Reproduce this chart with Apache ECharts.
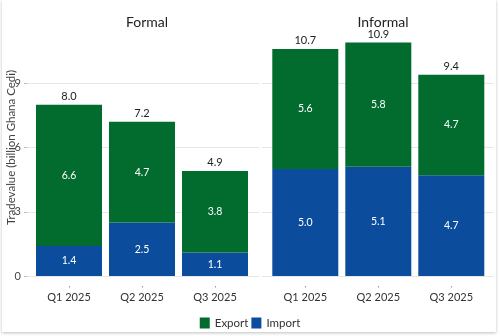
<!DOCTYPE html>
<html>
<head>
<meta charset="utf-8">
<script src="https://cdn.jsdelivr.net/npm/echarts@6/dist/echarts.min.js"></script>
<style>
  html, body { margin: 0; padding: 0; background: #fff; }
  #card { position: absolute; left: 2px; top: 0; width: 494px; height: 332px; background: #fff;
          box-shadow: 0 1px 3px rgba(0,0,0,0.25); }
  #main { position: absolute; left: 0; top: 0; width: 500px; height: 336px; }
</style>
</head>
<body>
<div id="card"></div>
<div id="main"></div>
<script>
var quarters = ['Q1 2025', 'Q2 2025', 'Q3 2025'];
var panels = ['Formal', 'Informal'];
var formalImport = [1.4, 2.5, 1.1];
var formalExport = [6.6, 4.7, 3.8];
var formalTotal = ['8.0', '7.2', '4.9'];
var informalImport = [5.0, 5.1, 4.7];
var informalExport = [5.6, 5.8, 4.7];
var informalTotal = ['10.7', '10.9', '9.4'];
var yTicks = [0, 3, 6, 9];

var green = '#026b2e';
var blue = '#0b4d9c';
var font = 'Lato';

var chart = echarts.init(document.getElementById('main'), null, {renderer: 'canvas'});

var gridTop = 19, gridBottom = 60, yMax = 12;

function bgY(idx, showLabels) {
  return {
    type: 'value', gridIndex: idx, min: 0, max: yMax, interval: 3,
    axisLine: {show: false},
    axisTick: {show: showLabels, length: 3, lineStyle: {color: '#bbb'}},
    axisLabel: {show: showLabels, showMaxLabel: false, margin: 6, color: '#444', fontSize: 11, fontFamily: font,
      formatter: function (v) { return yTicks.indexOf(v) >= 0 ? String(v) : ''; }},
    splitLine: {show: true, showMaxLine: false, lineStyle: {color: '#e6e6e6'}},
    name: showLabels ? 'Tradevalue (billion Ghana Cedi)' : '',
    nameLocation: 'middle', nameGap: 10, nameMoveOverlap: false,
    nameTextStyle: {color: '#444', fontSize: 11.5, fontFamily: font}
  };
}
function barY(idx) {
  return {type: 'value', gridIndex: idx, min: 0, max: yMax, show: false, splitLine: {show: false}};
}
function barX(idx) {
  return {
    type: 'category', gridIndex: idx, data: quarters,
    axisLine: {show: false},
    axisTick: {show: false},
    axisLabel: {margin: 16, color: '#333', fontSize: 11, fontFamily: font}
  };
}
// second axis on the same grid, only to draw the small tick dots under the bars
function dotX(idx) {
  return {
    type: 'category', gridIndex: idx, data: quarters, position: 'bottom', offset: 10,
    axisLine: {show: true, lineStyle: {color: 'rgba(0,0,0,0)'}},
    axisTick: {show: true, alignWithLabel: true, length: 1.5, lineStyle: {color: '#999'}},
    axisLabel: {show: false}
  };
}
function bgX(idx) {
  return {type: 'category', gridIndex: idx, data: [], show: false};
}

function stackSeries(axisIdx, imp, exp, totals, key) {
  return [
    {name: 'Import', type: 'bar', xAxisIndex: axisIdx, yAxisIndex: axisIdx, stack: key, data: imp,
      barWidth: 66, itemStyle: {color: blue},
      label: {show: true, position: 'inside', color: '#fff', fontSize: 10.5, fontFamily: font,
        formatter: function (p) { return p.value.toFixed(1); }}},
    {name: 'Export', type: 'bar', xAxisIndex: axisIdx, yAxisIndex: axisIdx, stack: key, data: exp,
      barWidth: 66, itemStyle: {color: green},
      label: {show: true, position: 'inside', color: '#fff', fontSize: 10.5, fontFamily: font,
        formatter: function (p) { return p.value.toFixed(1); }}},
    {name: 'Total', type: 'bar', xAxisIndex: axisIdx, yAxisIndex: axisIdx, stack: key,
      data: totals.map(function () { return 0; }),
      barWidth: 66, itemStyle: {color: 'transparent'}, silent: true,
      label: {show: true, position: 'top', distance: 3, color: '#222', fontSize: 11, fontFamily: font,
        formatter: function (p) { return totals[p.dataIndex]; }}}
  ];
}

var option = {
  animation: false,
  backgroundColor: 'transparent',
  title: [
    {text: panels[0], left: 142, top: 10, textAlign: 'center',
      textStyle: {fontSize: 14, fontWeight: 'normal', color: '#222', fontFamily: font}},
    {text: panels[1], left: 378, top: 10, textAlign: 'center',
      textStyle: {fontSize: 14, fontWeight: 'normal', color: '#222', fontFamily: font}}
  ],
  legend: {
    data: ['Export', 'Import'], top: 312, left: 'center', itemWidth: 10, itemHeight: 11, itemGap: 3,
    icon: 'rect', textStyle: {fontSize: 11.5, color: '#333', fontFamily: font}
  },
  grid: [
    {left: 27, width: 232, top: gridTop, bottom: gridBottom},
    {left: 32.5, width: 219, top: gridTop, bottom: gridBottom},
    {left: 262, width: 232, top: gridTop, bottom: gridBottom},
    {left: 268.8, width: 219, top: gridTop, bottom: gridBottom}
  ],
  // axes 0..3 carry the data; 4 and 5 only draw tick dots
  xAxis: [bgX(0), barX(1), bgX(2), barX(3), dotX(1), dotX(3)],
  yAxis: [bgY(0, true), barY(1), bgY(2, false), barY(3)],
  series: [].concat(
    stackSeries(1, formalImport, formalExport, formalTotal, 'f'),
    stackSeries(3, informalImport, informalExport, informalTotal, 'i')
  )
};

chart.setOption(option);
window.addEventListener('resize', function () { chart.resize(); });
</script>
</body>
</html>
